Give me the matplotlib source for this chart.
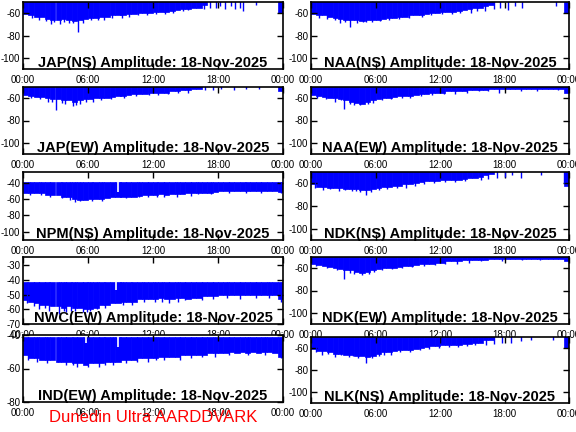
import numpy as np
import matplotlib
matplotlib.use('Agg')
import matplotlib.pyplot as plt

plt.rcParams['font.family'] = ['Liberation Sans', 'DejaVu Sans']
plt.rcParams['axes.unicode_minus'] = False

# time axis: half-hour slots over the day (hours)
hours = ['00:00', '06:00', '12:00', '18:00', '00:00']
date_str = '18-Nov-2025'

# lower envelope of the amplitude (dB), one value per half hour
jap_ns_low = [-61, -62, -63, -63, -65, -66, -66, -65, -66, -67, -66, -65,
              -64, -64, -63, -63, -62, -62, -62, -61, -61, -60, -60, -60,
              -59, -59, -59, -58, -57, -56, -56, -55, -55, -53, -48, -48,
              -48, -48, -48, -48, -48, -48, -48, -48, -48, -48, -48, -60]
jap_ew_low = [-57, -58, -59, -59, -60, -61, -61, -62, -62, -63, -62, -61,
              -61, -60, -60, -60, -59, -58, -58, -57, -56, -56, -56, -55,
              -55, -55, -55, -54, -54, -53, -53, -52, -52, -48, -48, -48,
              -48, -48, -48, -48, -48, -48, -48, -48, -48, -48, -48, -54]
npm_ns_low = [-53, -53, -53, -53, -55, -55, -55, -57, -57, -60, -61, -61,
              -60, -60, -60, -59, -58, -58, -57, -57, -57, -56, -55, -55,
              -55, -54, -55, -54, -54, -54, -53, -53, -52, -52, -52, -51,
              -50, -50, -50, -50, -50, -50, -50, -50, -50, -50, -50, -51]
nwc_ew_low = [-54, -55, -56, -57, -57, -58, -58, -59, -58, -59, -59, -60,
              -60, -59, -57, -57, -56, -56, -55, -55, -55, -53, -53, -53,
              -53, -52, -53, -53, -52, -52, -53, -52, -52, -51, -51, -51,
              -50, -50, -50, -50, -50, -50, -50, -50, -50, -50, -50, -53]
ind_ew_low = [-52, -54, -54, -55, -55, -55, -56, -56, -56, -57, -57, -58,
              -57, -57, -57, -56, -56, -56, -55, -55, -55, -54, -54, -54,
              -54, -53, -53, -53, -53, -52, -52, -52, -52, -52, -51, -51,
              -51, -51, -50, -51, -50, -51, -50, -51, -50, -50, -51, -53]
naa_ns_low = [-61, -62, -62, -63, -64, -65, -66, -66, -66, -67, -66, -66,
              -66, -65, -64, -64, -63, -63, -62, -62, -62, -61, -60, -60,
              -59, -59, -59, -58, -57, -56, -55, -55, -54, -53, -48, -48,
              -48, -48, -48, -48, -48, -48, -48, -48, -48, -48, -48, -60]
naa_ew_low = [-57, -58, -59, -60, -60, -61, -62, -63, -64, -65, -63, -62,
              -61, -60, -60, -59, -58, -58, -58, -57, -56, -56, -55, -55,
              -55, -54, -54, -54, -54, -53, -53, -53, -53, -52, -52, -52,
              -51.5, -51.5, -51.5, -51.5, -51.5, -51.5, -51.5, -51.5, -51.5, -51.5, -51.5, -55]
ndk_ns_low = [-61, -63, -63, -64, -64, -64, -65, -65, -65, -66, -66, -65,
              -64, -63, -63, -62, -62, -61, -61, -60, -59, -58, -58, -58,
              -57, -57, -57, -57, -56, -55, -55, -54, -53, -52, -48, -48,
              -48, -48, -48, -48, -48, -48, -48, -48, -48, -48, -48, -62]
ndk_ew_low = [-56, -57, -58, -59, -60, -61, -62, -62, -63, -64, -63, -62,
              -61, -60, -60, -60, -59, -58, -58, -57, -56, -56, -56, -55,
              -55, -54, -54, -54, -53, -53, -53, -53, -53, -52, -52, -51.5,
              -51.5, -51.5, -51.5, -51.5, -51.5, -51.5, -51.5, -51.5, -51.5, -51.5, -51.5, -54]
nlk_ns_low = [-61, -63, -63, -64, -65, -65, -66, -66, -67, -67, -68, -67,
              -65, -64, -64, -63, -62, -62, -62, -61, -60, -59, -58, -58,
              -57, -57, -57, -57, -56, -56, -55, -55, -53, -53, -49, -49,
              -49, -49, -49, -49, -49, -49, -49, -49, -49, -49, -49, -60]

# upper envelope (off the top of the axes for the clipped stations)
jap_ns_high = -40
jap_ew_high = -40
npm_ns_high = -39
nwc_ew_high = -41.5
ind_ew_high = -41
naa_ns_high = -40
naa_ew_high = -40
ndk_ns_high = -40
ndk_ew_high = -40
nlk_ns_high = -40

# downward spikes below the envelope (hour, dB)
jap_ns_spk_t = [0.8, 1.5, 2.1, 2.6, 2.9, 3.4, 3.8, 4.2, 4.6, 5.05, 5.5, 6.3, 6.9, 7.5, 8.2, 9.1, 9.8,
                10.6, 11.4, 12.3, 13.1, 13.8, 14.8, 15.2, 16.7, 17.3, 17.8, 18.2, 18.6, 19.2, 19.6,
                20.0, 20.3, 21.5]
jap_ns_spk_v = [-64, -66, -67, -70, -68, -70, -68, -69, -69, -77, -69, -66, -66, -66, -64, -64, -63,
                -62, -62, -61, -61, -60, -58, -57, -56, -55, -55, -54, -56, -54, -56,
                -55, -58, -53]
jap_ew_spk_t = [0.7, 1.6, 2.3, 2.7, 3.0, 3.6, 3.9, 4.6, 4.9, 5.3, 5.8, 6.5, 7.2, 8.1, 9.3, 10.4, 11.6,
                12.5, 13.4, 14.3, 15.2, 16.8, 17.5, 18.3, 19.5, 20.6, 21.8]
jap_ew_spk_v = [-60, -61, -63, -63, -71, -64, -65, -67, -66, -65, -63, -63, -62, -61, -60, -58, -57,
                -57, -56, -55, -55, -53, -53, -52, -53, -52, -52]
npm_ns_spk_t = [0.6, 1.7, 2.5, 3.6, 4.3, 4.8, 5.3, 6.4, 7.3, 9.5, 10.7, 11.5, 12.4, 13.0, 14.2, 15.5,
                16.2, 17.4, 19.0, 20.6, 22.0, 23.8]
npm_ns_spk_v = [-55, -55, -57, -59, -61, -64, -62, -62, -62, -59, -58, -58, -57, -58, -57, -56,
                -54, -54, -53, -52, -52, -53]
nwc_ew_spk_t = [0.4, 1.0, 1.5, 2.0, 2.4, 3.3, 3.8, 4.0, 4.4, 4.8, 5.5, 5.9, 6.2, 6.8, 7.6, 9.2, 10.1,
                11.2, 12.2, 12.8, 13.5, 14.3, 15.0, 16.5, 17.5, 18.8, 20.0, 21.5, 22.7, 23.8]
nwc_ew_spk_v = [-56, -58, -60, -59, -61, -63, -61, -62, -61, -61, -62, -62, -61, -60, -59, -57, -57,
                -55, -55, -55, -56, -55, -54, -54, -53, -52, -53, -52, -52, -55]
ind_ew_spk_t = [0.5, 1.3, 2.2, 3.2, 4.0, 4.6, 5.0, 6.0, 7.0, 7.6, 8.3, 9.5, 10.5, 11.5, 12.3, 13.0,
                14.5, 15.5, 16.5, 17.7, 19.0, 20.8, 22.3, 23.8]
ind_ew_spk_v = [-55, -56, -57, -56, -58, -58, -59, -59, -59, -58, -58, -57, -56, -56, -55, -55,
                -55, -54, -53, -53, -52, -52, -52, -54]
naa_ns_spk_t = [0.7, 1.5, 2.2, 2.7, 3.2, 3.6, 4.3, 4.8, 5.1, 5.7, 6.4, 7.3, 8.2, 9.1, 10.3, 11.2,
                12.2, 13.1, 13.9, 14.9, 15.4, 16.2, 17.0, 17.6, 18.3, 19.0, 19.6, 22.8]
naa_ns_spk_v = [-64, -65, -66, -69, -68, -72, -69, -68, -68, -68, -67, -66, -65, -64, -63, -62,
                -61, -61, -60, -60, -58, -58, -56, -55, -57, -54, -55, -54]
naa_ew_spk_t = [0.6, 1.4, 2.2, 2.8, 3.1, 3.6, 4.0, 4.6, 5.3, 5.8, 6.6, 7.4, 8.5, 9.2, 10.2, 11.3,
                12.4, 13.4, 14.5, 15.6, 16.5, 17.5, 19.5, 21.0, 23.0]
naa_ew_spk_v = [-60, -61, -63, -62, -70, -65, -66, -66, -65, -64, -62, -61, -60, -60, -58, -57,
                -56, -56, -55, -54, -54, -55, -54, -54, -53]
ndk_ns_spk_t = [0.4, 1.1, 1.8, 2.6, 3.2, 3.8, 4.2, 4.6, 5.1, 5.6, 6.3, 7.1, 8.0, 8.8, 9.7, 10.5,
                11.4, 12.5, 13.4, 14.3, 15.8, 16.5, 17.3, 18.0, 18.7, 19.5, 21.4, 23.5]
ndk_ns_spk_v = [-64, -66, -65, -67, -66, -67, -67, -68, -70, -68, -66, -65, -64, -64, -62, -61,
                -60, -59, -59, -58, -57, -56, -55, -54, -53, -55, -53, -60]
ndk_ew_spk_t = [0.5, 1.5, 2.4, 3.1, 3.6, 4.0, 4.7, 5.4, 5.9, 6.6, 7.5, 8.5, 9.4, 10.5, 11.5, 12.5,
                13.6, 14.7, 15.8, 17.8, 19.6, 21.3]
ndk_ew_spk_v = [-58, -60, -62, -69.5, -64, -65, -66, -65, -63, -62, -61, -60, -59, -58, -57, -56,
                -56, -55, -54, -54, -53, -53]
nlk_ns_spk_t = [0.5, 1.0, 1.6, 2.2, 2.8, 3.5, 3.9, 4.4, 5.1, 5.7, 6.3, 6.8, 7.4, 8.3, 9.2, 10.1,
                11.0, 11.9, 12.8, 13.7, 14.5, 15.3, 16.3, 17.0, 17.8, 18.6, 19.5, 20.5, 22.5]
nlk_ns_spk_v = [-64, -66, -65, -68, -66, -68, -67, -69, -74, -69, -67, -66, -66, -64, -64, -62,
                -61, -60, -59, -59, -58, -57, -57, -56, -55, -55, -54, -53, -53]

# signal drop-outs from the top of the band (hour, dB)
npm_ns_gap_t = [8.8]
npm_ns_gap_v = [-51]
nwc_ew_gap_t = [8.6]
nwc_ew_gap_v = [-47]
ind_ew_gap_t = [5.8, 8.8]
ind_ew_gap_v = [-45, -47]

W, H = 576, 432
fig = plt.figure(figsize=(W / 100, H / 100), dpi=100)


def box(x0, x1, y0, y1):
    return [x0 / W, 1 - y1 / H, (x1 - x0) / W, (y1 - y0) / H]


def panel(rect, name, low, high, spk_t, spk_v, ylim, yticks, gap_t=(), gap_v=()):
    ax = fig.add_axes(rect)
    low = np.asarray(low, dtype=float)
    t = np.arange(len(low)) * 24.0 / len(low)
    ax.bar(t, high - low, bottom=low, width=24.0 / len(low), align='edge',
           color='blue', edgecolor='blue', linewidth=0.5)
    ax.vlines(spk_t, spk_v, high, color='blue', lw=1)
    if len(gap_t):
        ax.vlines(gap_t, gap_v, high + 0.2, color='white', lw=1.2, zorder=3)
    ax.set_xlim(0, 24)
    ax.set_ylim(*ylim)
    ax.set_xticks([0, 6, 12, 18, 24])
    ax.set_xticklabels(hours)
    ax.set_yticks(yticks)
    ax.tick_params(direction='in', length=4, width=1, labelsize=7,
                   top=True, right=True)
    ax.tick_params(axis='x', pad=4.5)
    ax.tick_params(axis='y', pad=2)
    for s in ax.spines.values():
        s.set_linewidth(1.2)
    ax.text(0.5, 0.035, name + ' Amplitude: ' + date_str, transform=ax.transAxes,
            ha='center', va='baseline', fontsize=10.5, fontweight='bold', zorder=5)
    return ax


L = (23, 283)
R = (311, 569)
rows = [(2, 69), (87, 154), (172, 240), (257, 324), (335, 402)]
rows_r = [(2, 69), (87, 154), (172, 240), (257, 324), (337, 403)]
std = (-110, -50)
stdt = [-100, -80, -60]

panel(box(*L, *rows[0]), 'JAP(NS)', jap_ns_low, jap_ns_high, jap_ns_spk_t, jap_ns_spk_v, std, stdt)
panel(box(*L, *rows[1]), 'JAP(EW)', jap_ew_low, jap_ew_high, jap_ew_spk_t, jap_ew_spk_v, std, stdt)
panel(box(*L, *rows[2]), 'NPM(NS)', npm_ns_low, npm_ns_high, npm_ns_spk_t, npm_ns_spk_v,
      (-110.4, -26.6), [-100, -80, -60, -40], npm_ns_gap_t, npm_ns_gap_v)
panel(box(*L, *rows[3]), 'NWC(EW)', nwc_ew_low, nwc_ew_high, nwc_ew_spk_t, nwc_ew_spk_v,
      (-70, -24.4), [-70, -60, -50, -40, -30], nwc_ew_gap_t, nwc_ew_gap_v)
panel(box(*L, *rows[4]), 'IND(EW)', ind_ew_low, ind_ew_high, ind_ew_spk_t, ind_ew_spk_v,
      (-80, -40), [-80, -60, -40], ind_ew_gap_t, ind_ew_gap_v)

panel(box(*R, *rows_r[0]), 'NAA(NS)', naa_ns_low, naa_ns_high, naa_ns_spk_t, naa_ns_spk_v, std, stdt)
panel(box(*R, *rows_r[1]), 'NAA(EW)', naa_ew_low, naa_ew_high, naa_ew_spk_t, naa_ew_spk_v, std, stdt)
panel(box(*R, *rows_r[2]), 'NDK(NS)', ndk_ns_low, ndk_ns_high, ndk_ns_spk_t, ndk_ns_spk_v, std, stdt)
panel(box(*R, *rows_r[3]), 'NDK(EW)', ndk_ew_low, ndk_ew_high, ndk_ew_spk_t, ndk_ew_spk_v, std, stdt)
panel(box(*R, *rows_r[4]), 'NLK(NS)', nlk_ns_low, nlk_ns_high, nlk_ns_spk_t, nlk_ns_spk_v, std, stdt)

fig.text(153 / W, 1 - 417 / H, 'Dunedin Ultra AARDDVARK', color='red',
         ha='center', va='center', fontsize=12)

fig.savefig('out.png', dpi=100)
